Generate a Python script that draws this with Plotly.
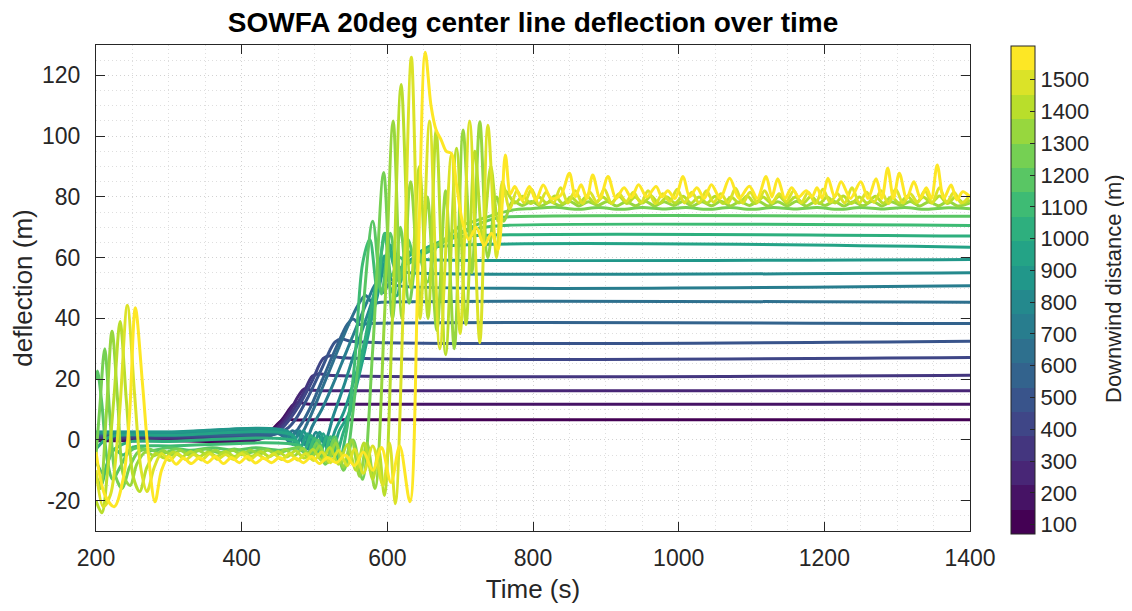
import plotly.graph_objects as go
from plotly.colors import sample_colorscale

# ---------------- data ----------------
# downwind distances of the 20 centre-line probes (m)
dist = [71, 152, 233, 314, 394, 475, 556, 637, 717, 798,
        879, 960, 1040, 1121, 1202, 1283, 1363, 1444, 1525, 1606]

x_ticks = [200, 400, 600, 800, 1000, 1200, 1400]
y_ticks = [-20, 0, 20, 40, 60, 80, 100, 120]
y_tick_text = ["-20", "0", "20", "40", "60", "80", "100", "120"]
cb_ticks = [100, 200, 300, 400, 500, 600, 700, 800, 900, 1000, 1100, 1200, 1300, 1400, 1500]

t00 = [200, 300, 415, 428, 440, 452, 460, 470, 490, 1400]
v00 = [-0.3, -0.3, -0.3, 0.8, 3.0, 5.8, 7.0, 6.6, 6.6, 6.6]

t01 = [200, 300, 420, 432, 445, 458, 470, 478, 490, 505, 1400]
v01 = [0.0, 0.0, 0.0, 1.0, 3.6, 7.5, 11.4, 12.3, 11.8, 11.7, 11.7]

t02 = [200, 300, 425, 437, 450, 465, 478, 486, 495, 510, 1400]
v02 = [0.4, 0.4, 0.4, 1.4, 4.2, 9.0, 14.5, 16.8, 16.4, 16.2, 16.2]

t03 = [200, 300, 430, 442, 455, 470, 485, 497, 506, 520, 1400]
v03 = [0.8, 0.8, 0.8, 1.8, 4.6, 9.5, 15.5, 21.0, 21.8, 21.3, 21.3]

t04 = [200, 300, 435, 447, 460, 478, 496, 512, 522, 535, 1400]
v04 = [1.2, 1.2, 1.2, 2.2, 5.0, 11.0, 19.0, 26.8, 27.7, 27.1, 27.1]

t05 = [200, 300, 440, 452, 464, 476, 492, 510, 528, 538, 550, 1400]
v05 = [1.6, 1.6, 1.6, 2.4, 4.0, 7.5, 14.5, 23.5, 32.2, 33.2, 32.5, 32.5]

t06 = [200, 300, 445, 457, 468, 480, 494, 512, 530, 545, 553, 562, 575, 1400]
v06 = [1.9, 1.9, 1.9, 2.3, 1.2, 4.5, 10.5, 20.5, 30.5, 38.0, 39.8, 38.0, 38.3, 38.3]

t07 = [200, 300, 450, 460, 470, 480, 492, 508, 526, 545, 560, 570, 580, 592, 1400]
v07 = [2.1, 2.1, 2.1, 0.8, 3.0, 1.5, 6.5, 15.5, 26.0, 37.0, 44.5, 47.5, 45.0, 45.3, 45.3]

t08 = [200, 300, 455, 465, 475, 486, 497, 510, 525, 542, 560, 575, 585, 594, 603, 615, 1400]
v08 = [2.3, 2.3, 2.3, -0.5, 3.0, -1.5, 4.5, 10.0, 18.0, 28.0, 38.5, 47.0, 51.5, 48.5, 51.5, 50.7, 50.7]

t09 = [200, 300, 460, 470, 480, 491, 502, 513, 526, 542, 558, 574, 588, 598, 607, 617, 630, 1400]
v09 = [2.5, 2.5, 2.5, -1.5, 3.0, -3.0, 2.5, -1.0, 8.0, 19.0, 31.0, 42.0, 52.0, 56.5, 52.5, 55.5, 55.0, 55.0]

t10 = [200, 300, 465, 475, 485, 496, 507, 518, 529, 540,
       555, 570, 585, 596, 605, 614, 624, 636, 650, 1400]
v10 = [2.6, 2.6, 2.6, -2.0, 3.0, -3.5, 2.5, -3.0, 3.5, 9.0,
       20.0, 33.0, 46.0, 58.0, 64.0, 56.0, 58.0, 59.8, 59.4, 59.4]

t11 = [200, 215, 230, 300, 470, 480, 490, 501, 512, 523,
       534, 546, 560, 575, 588, 596, 604, 613, 622, 632,
       645, 660, 1400]
v11 = [-3.0, 0.5, 1.5, 1.5, 1.5, -3.0, 2.0, -4.5, 2.0, -5.0,
       3.0, 8.0, 20.0, 36.0, 52.0, 60.5, 50.0, 47.5, 58.0, 61.0,
       62.0, 63.4, 63.4]

t12 = [200, 210, 222, 236, 250, 300, 475, 485, 495, 506,
       517, 528, 539, 550, 562, 575, 588, 598, 608, 618,
       628, 640, 652, 665, 685, 710, 1400]
v12 = [-7.0, -11.0, -4.0, -1.5, -0.5, -0.5, -0.5, -4.0, 1.5, -5.5,
       1.0, -6.0, 2.0, 10.0, 24.0, 40.0, 56.0, 68.0, 58.0, 52.0,
       62.0, 60.0, 63.0, 64.5, 66.2, 67.1, 67.1]

t13 = [200, 207, 215, 225, 237, 250, 265, 300, 480, 490,
       500, 511, 522, 533, 544, 555, 566, 576, 586, 596,
       606, 617, 628, 640, 652, 665, 681, 700, 727, 760,
       1400]
v13 = [-12.0, -15.0, -8.0, -3.0, -5.0, -2.5, -2.0, -2.0, -2.0, -5.0,
       0.5, -7.0, 1.0, -7.5, 3.0, 25.0, 58.0, 66.0, 50.0, 68.0,
       54.0, 60.0, 58.0, 60.0, 61.5, 63.0, 65.9, 68.0, 69.8, 70.6,
       70.6]

t14 = [200, 202, 208, 215, 223, 233, 245, 258, 275, 300,
       330, 360, 390, 420, 450, 485, 495, 505, 516, 528,
       540, 560, 580, 592, 604, 616, 628, 640, 652, 663,
       686, 703, 750, 800, 1400]
v14 = [20.0, 22.7, 12.0, -6.0, -13.0, -9.0, -4.0, -2.5, -3.5, -2.6,
       -3.4, -2.6, -3.4, -2.6, -3.4, -3.0, -6.0, 0.0, -6.5, 1.0,
       -9.5, 25.0, 72.0, 48.0, 68.0, 52.0, 66.0, 58.0, 62.0, 63.7,
       66.0, 68.6, 73.0, 73.6, 73.6]

t15 = [200, 205, 212, 219, 227, 236, 246, 258, 272, 290,
       310, 330, 350, 370, 390, 410, 430, 450, 470, 480,
       492, 503, 515, 527, 540, 553, 566, 580, 595, 607,
       618, 630, 642, 655, 668, 684, 699, 720, 745, 772,
       800, 830, 860, 890, 920, 950, 980, 1010, 1040, 1070,
       1100, 1130, 1160, 1190, 1220, 1250, 1280, 1310, 1340, 1370,
       1400]
v15 = [-5.0, 10.0, 30.0, 8.0, -12.0, -16.0, -9.0, -4.0, -3.0, -4.5,
       -3.0, -4.2, -3.0, -4.2, -3.0, -4.2, -3.0, -4.3, -2.8, -2.5,
       -6.0, -1.0, -8.0, 0.0, -10.0, 0.0, -13.0, 30.0, 88.0, 40.0,
       70.0, 45.0, 62.0, 52.0, 64.0, 67.0, 70.3, 72.0, 74.0, 75.7,
       76.2, 76.6, 75.9, 76.5, 75.9, 76.5, 76.0, 76.5, 75.9, 76.5,
       75.9, 76.5, 76.0, 76.5, 75.9, 76.5, 76.0, 76.5, 75.9, 76.4,
       76.1]

t16 = [200, 206, 214, 222, 230, 238, 247, 256,
       268, 280, 292, 304, 316, 328, 340, 352, 364, 376,
       388, 400, 412, 424, 436, 448, 460, 472, 484, 496,
       507, 518, 529, 540, 551, 562, 572, 583, 596, 608,
       620, 632, 645, 655, 668, 680, 692, 704, 716, 727,
       738, 750, 760, 772, 785, 798, 811, 824, 837, 850,
       863, 876, 889, 902, 915, 928, 941, 954, 967, 980,
       993, 1006, 1019, 1032, 1045, 1058, 1071, 1084, 1097, 1110,
       1123, 1136, 1149, 1162, 1175, 1188, 1201, 1214, 1227, 1240,
       1253, 1266, 1279, 1292, 1305, 1318, 1331, 1344, 1357, 1370,
       1383, 1400]
v16 = [-12.0, -16.0, 8.0, 35.8, 12.0, -12.0, -15.0, -8.0,
       -4.0, -5.2, -3.5, -5.0, -3.5, -5.0, -3.4, -4.8, -3.4, -4.8,
       -3.4, -4.9, -3.3, -4.8, -3.3, -5.0, -3.2, -5.3, -2.8, -6.0,
       -2.0, -7.5, -1.0, -9.0, 0.0, -12.0, -1.0, -16.0, 40.0, 105.0,
       40.0, 85.0, 45.0, 80.0, 36.0, 82.0, 30.0, 102.0, 55.0, 104.7,
       60.0, 80.0, 72.0, 78.5, 77.2, 78.5, 77.0, 78.4, 77.1, 78.6,
       77.0, 78.4, 77.2, 78.5, 77.0, 78.4, 77.1, 78.6, 77.0, 78.4,
       77.2, 78.5, 77.0, 78.4, 77.1, 78.6, 77.0, 78.4, 77.2, 78.5,
       77.0, 78.4, 77.1, 78.6, 77.0, 78.4, 77.2, 78.5, 77.0, 78.4,
       77.1, 78.6, 77.0, 78.4, 77.2, 78.5, 77.0, 78.4, 77.1, 78.6,
       77.0, 78.0]

t17 = [200, 208, 216, 225, 233, 242, 251, 260, 270, 282,
       294, 306, 318, 330, 342, 354, 366, 378, 390, 402,
       414, 426, 438, 450, 462, 474, 486, 498, 510, 521,
       533, 545, 557, 568, 580, 588, 596, 607, 619, 632,
       644, 656, 667, 680, 695, 708, 720, 731, 742, 752,
       762, 775, 786, 797, 808, 819, 830, 841, 852, 863,
       874, 885, 896, 907, 918, 929, 940, 951, 962, 973,
       984, 995, 1006, 1017, 1028, 1039, 1050, 1061, 1072, 1083,
       1094, 1105, 1116, 1127, 1138, 1149, 1160, 1171, 1182, 1193,
       1204, 1215, 1226, 1237, 1248, 1259, 1270, 1281, 1292, 1303,
       1314, 1325, 1336, 1347, 1358, 1369, 1380, 1391, 1400]
v17 = [-20.0, -24.0, -10.0, 15.0, 39.0, 12.0, -12.0, -17.0, -9.0, -4.5,
       -6.0, -4.0, -5.6, -3.8, -5.5, -4.0, -5.4, -3.8, -5.5, -4.0,
       -5.4, -3.8, -5.5, -3.8, -5.6, -3.6, -6.0, -3.2, -6.8, -2.5,
       -8.0, -1.5, -10.0, -1.0, -13.0, -3.0, -18.3, 40.0, 117.0, 50.0,
       90.0, 40.0, 102.0, 28.0, 96.0, 38.0, 95.0, 66.0, 90.0, 72.0,
       82.0, 78.0, 80.2, 77.8, 80.0, 78.0, 80.3, 77.8, 80.0, 78.0,
       80.2, 77.9, 80.0, 78.0, 80.2, 77.8, 80.0, 78.0, 80.3, 77.8,
       80.0, 78.0, 80.2, 77.9, 80.0, 78.0, 80.2, 77.8, 80.0, 78.0,
       80.3, 77.8, 80.0, 78.0, 80.2, 77.9, 80.0, 78.0, 80.2, 77.8,
       80.0, 78.0, 80.3, 77.8, 80.0, 78.0, 80.2, 77.9, 80.0, 78.0,
       80.2, 77.8, 80.0, 78.0, 80.3, 77.8, 80.0, 78.0, 79.0]

t18 = [200, 210, 220, 232, 243, 253, 262, 270, 280, 290,
       301, 312, 323, 334, 345, 356, 367, 378, 389, 400,
       411, 422, 433, 444, 455, 466, 477, 488, 499, 510,
       522, 533, 545, 555, 567, 580, 594, 603, 611, 622,
       633, 645, 658, 672, 688, 700, 713, 727, 738, 750,
       758, 768, 778, 788, 798, 808, 818, 828, 838, 848,
       858, 868, 878, 888, 898, 908, 918, 928, 938, 948,
       958, 968, 978, 988, 998, 1008, 1018, 1028, 1038, 1048,
       1058, 1068, 1078, 1088, 1098, 1108, 1118, 1128, 1138, 1148,
       1158, 1168, 1178, 1188, 1198, 1208, 1218, 1228, 1238, 1248,
       1258, 1268, 1278, 1288, 1298, 1308, 1318, 1328, 1338, 1348,
       1358, 1368, 1378, 1388, 1400]
v18 = [-10.0, -22.0, -18.0, 8.0, 44.3, 15.0, -10.0, -17.0, -9.0, -4.5,
       -6.8, -4.5, -6.5, -4.8, -6.6, -4.6, -6.4, -4.8, -6.5, -4.5,
       -6.6, -4.8, -6.3, -4.6, -6.5, -4.5, -6.6, -4.5, -6.8, -4.0,
       -7.5, -3.5, -8.5, -3.0, -11.0, -2.0, -15.0, -1.0, -21.0, 45.0,
       126.0, 40.0, 105.0, 30.0, 94.0, 35.0, 105.0, 32.0, 103.6, 60.0,
       85.0, 76.0, 82.0, 78.0, 82.5, 77.5, 81.5, 78.0, 83.0, 78.0,
       82.0, 77.8, 81.5, 78.2, 82.5, 77.8, 81.0, 78.5, 81.5, 78.0,
       82.0, 77.8, 81.0, 78.5, 82.5, 78.0, 81.5, 78.0, 82.0, 78.2,
       81.0, 78.0, 82.8, 78.0, 81.5, 78.2, 82.0, 78.0, 81.0, 78.5,
       82.0, 78.0, 81.5, 77.8, 82.5, 78.2, 81.0, 78.0, 83.0, 78.0,
       81.5, 78.2, 82.0, 77.8, 82.5, 78.0, 81.0, 78.2, 82.0, 78.0,
       83.0, 78.2, 81.5, 78.0, 80.5]

t19 = [200, 212, 225, 238, 246, 254, 264, 272, 281, 290,
       300, 310, 320, 331, 342, 353, 364, 375, 386, 397,
       408, 419, 430, 441, 452, 463, 474, 485, 496, 507,
       518, 530, 542, 555, 567, 580, 592, 605, 617, 631,
       642, 652, 660, 667, 674, 681, 688, 695, 703, 712,
       722, 733, 743, 752, 762, 769, 775, 785, 795, 804,
       814, 825, 838, 850, 858, 866, 874, 882, 892, 903,
       914, 925, 935, 945, 956, 969, 977, 985, 995, 1006,
       1015, 1025, 1035, 1045, 1057, 1070, 1083, 1097, 1108, 1120,
       1128, 1136, 1146, 1155, 1165, 1175, 1183, 1190, 1197, 1205,
       1214, 1223, 1236, 1250, 1260, 1271, 1279, 1287, 1295, 1303,
       1313, 1323, 1332, 1340, 1347, 1355, 1364, 1374, 1382, 1390,
       1400]
v19 = [-4.0, -18.0, -22.0, -12.0, 8.0, 43.5, 18.0, -5.0, -20.4, -10.0,
       -5.5, -8.0, -6.0, -7.8, -5.8, -7.5, -5.5, -7.8, -5.8, -7.5,
       -5.5, -7.6, -6.0, -7.5, -5.8, -7.2, -6.0, -7.5, -5.5, -7.8,
       -5.8, -7.5, -5.0, -8.5, -4.0, -10.0, -2.5, -14.0, -2.0, -20.4,
       55.0, 127.6, 110.0, 102.0, 98.7, 95.0, 94.3, 84.0, 72.0, 66.0,
       70.0, 64.0, 68.0, 62.6, 93.8, 81.0, 83.4, 79.0, 83.4, 79.0,
       83.9, 79.5, 80.5, 87.8, 80.0, 84.0, 79.5, 87.2, 79.5, 86.7,
       79.5, 83.0, 79.8, 84.0, 80.0, 83.4, 80.0, 82.0, 79.5, 86.7,
       80.0, 83.0, 79.5, 84.0, 79.5, 86.1, 79.5, 83.5, 79.5, 86.7,
       80.0, 86.0, 79.5, 83.0, 80.0, 82.0, 80.0, 83.0, 79.5, 86.1,
       80.0, 85.0, 79.5, 85.0, 79.5, 86.0, 79.5, 89.4, 79.5, 87.8,
       79.5, 85.0, 79.5, 83.0, 79.5, 90.5, 79.5, 83.9, 79.0, 81.7,
       80.0]

series = [(t00, v00), (t01, v01), (t02, v02), (t03, v03), (t04, v04),
          (t05, v05), (t06, v06), (t07, v07), (t08, v08), (t09, v09),
          (t10, v10), (t11, v11), (t12, v12), (t13, v13), (t14, v14),
          (t15, v15), (t16, v16), (t17, v17), (t18, v18), (t19, v19)]
for k, (tt, vv) in enumerate(series):
    assert len(tt) == len(vv), (k, len(tt), len(vv))

# ---------------- styling ----------------
FONT = "Liberation Sans, Arial, Helvetica, sans-serif"
INK = "#262626"
n = len(dist)
colors = sample_colorscale("Viridis", [k / (n - 1) for k in range(n)])
cscale = []
for k, c in enumerate(colors):
    cscale.append([k / n, c])
    cscale.append([(k + 1) / n, c])

fig = go.Figure()
for (tt, vv), c in zip(series, colors):
    fig.add_trace(go.Scatter(
        x=tt, y=vv, mode="lines",
        line=dict(color=c, width=3, shape="spline", smoothing=0.9),
        hoverinfo="skip", showlegend=False))

# invisible trace that carries the colour bar
fig.add_trace(go.Scatter(
    x=[300, 400], y=[-500, -500], mode="markers",
    marker=dict(size=1, opacity=0, color=[dist[0], dist[-1]],
                cmin=dist[0], cmax=dist[-1], colorscale=cscale, showscale=True,
                colorbar=dict(
                    x=1.047, xanchor="left", y=0.496, yanchor="middle",
                    len=1.004, lenmode="fraction", thickness=24, thicknessmode="pixels",
                    xpad=0, ypad=0, outlinewidth=1, outlinecolor=INK,
                    tickvals=cb_ticks, ticks="inside", ticklen=5, tickcolor=INK,
                    tickfont=dict(size=22, color=INK, family=FONT))),
    hoverinfo="skip", showlegend=False))

# page body has an 8 px default margin, so the figure is 8 px smaller
W, H = 1124, 603
L, R, T, B = 88, 162, 37, 80
PW, PH = W - L - R, H - T - B
grid_major = "#d2d2d2"
grid_minor = "#dedede"

# colour-bar title placed as a rotated annotation
fig.add_annotation(
    text="Downwind distance (m)", textangle=-90, showarrow=False,
    xref="paper", yref="paper", x=(1105 - L) / PW, y=1 - (281 - T) / PH,
    xanchor="center", yanchor="middle",
    font=dict(size=22, color=INK, family=FONT))

fig.update_layout(
    width=W, height=H,
    margin=dict(l=L, r=R, t=T, b=B),
    paper_bgcolor="white", plot_bgcolor="white",
    font=dict(family=FONT, color=INK),
    title=dict(text="<b>SOWFA 20deg center line deflection over time</b>",
               x=0.5, xref="paper", xanchor="center",
               y=1 - 14 / H, yref="container", yanchor="middle",
               font=dict(size=28, color="black", family=FONT)),
    xaxis=dict(range=[200, 1400], tickvals=x_ticks, ticks="inside", ticklen=9,
               tickcolor=INK, showline=True, linecolor=INK, linewidth=1, mirror="ticks",
               showgrid=True, gridcolor=grid_major, griddash="1px,3px", gridwidth=1,
               minor=dict(tick0=200, dtick=50, showgrid=True, gridcolor=grid_minor,
                          griddash="1px,3px", ticks=""),
               zeroline=False, automargin=False, ticklabelstandoff=6,
               tickfont=dict(size=23, color=INK),
               title=dict(text="Time (s)", font=dict(size=26, color=INK), standoff=10)),
    yaxis=dict(range=[-30, 130], tickvals=y_ticks, ticktext=y_tick_text,
               ticks="inside", ticklen=9, tickcolor=INK, showline=True, linecolor=INK,
               linewidth=1, mirror="ticks",
               showgrid=True, gridcolor=grid_major, griddash="1px,3px", gridwidth=1,
               minor=dict(tick0=0, dtick=5, showgrid=True, gridcolor=grid_minor,
                          griddash="1px,3px", ticks=""),
               zeroline=False, automargin=False, ticklabelstandoff=10,
               tickfont=dict(size=23, color=INK),
               title=dict(text="deflection (m)", font=dict(size=26, color=INK), standoff=2)),
)

fig.write_html("out.html", config={"displayModeBar": False})
